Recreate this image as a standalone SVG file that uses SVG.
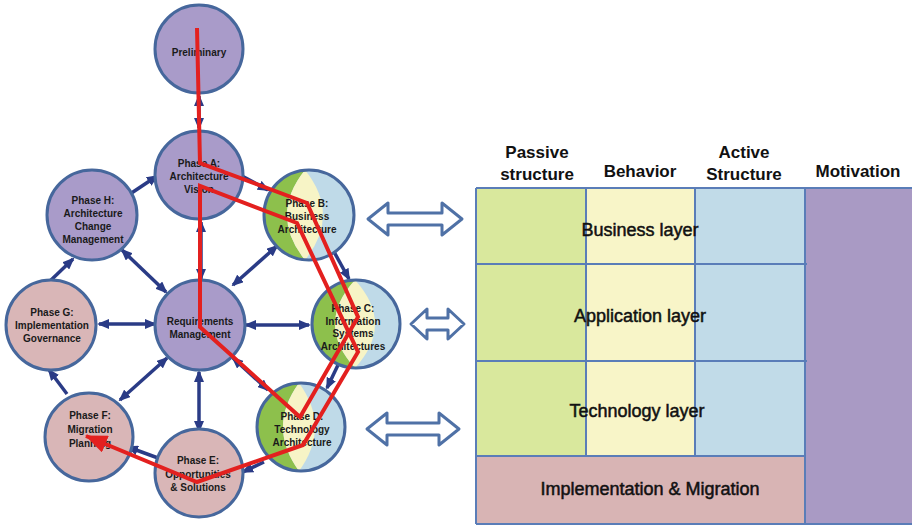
<svg xmlns="http://www.w3.org/2000/svg" width="912" height="529" viewBox="0 0 912 529">
<style>
.nt{font-family:"Liberation Sans",Arial,sans-serif;font-size:10px;font-weight:bold;fill:#1a1a1a;text-anchor:middle}
.hd{font-family:"Liberation Sans",Arial,sans-serif;font-size:17px;font-weight:bold;fill:#111;text-anchor:middle}
.ly{font-family:"Liberation Sans",Arial,sans-serif;font-size:18px;fill:#111;stroke:#111;stroke-width:0.5;text-anchor:middle}
.ring{stroke:#46679c;stroke-width:3}
.pur{fill:#a99bc9}
.pink{fill:#d9b6b7}
.c{stroke:#2a3b86;stroke-width:3.5;fill:none}
.one{marker-end:url(#nav)}
.bi{marker-start:url(#nav);marker-end:url(#nav)}
.dbl{fill:#fff;stroke:#4f71a6;stroke-width:3;stroke-linejoin:round}
.grid{stroke:#5a7db8;stroke-width:2;fill:none}
</style>
<defs>
<marker id="nav" markerUnits="userSpaceOnUse" viewBox="0 0 12 10" markerWidth="12" markerHeight="10" refX="10" refY="5" orient="auto-start-reverse">
<path d="M0,0 L12,5 L0,10 z" fill="#2a3b86"/>
</marker>
<marker id="redhead" markerUnits="userSpaceOnUse" viewBox="0 0 22 18" markerWidth="22" markerHeight="18" refX="21" refY="9" orient="auto">
<path d="M0,0 L22,9 L0,18 z" fill="#e3201f"/>
</marker>
<clipPath id="clipB"><circle cx="309" cy="215" r="45"/></clipPath>
<clipPath id="clipC"><circle cx="356" cy="324" r="44"/></clipPath>
<clipPath id="clipD"><circle cx="301" cy="427" r="44"/></clipPath>
</defs>
<rect width="912" height="529" fill="#fff"/>

<g id="connectors">
<line class="c bi" x1="199" y1="96" x2="199" y2="128"/>
<line class="c one" x1="242" y1="176" x2="268" y2="190"/>
<line class="c one" x1="127" y1="196" x2="157" y2="176"/>
<line class="c one" x1="50" y1="281" x2="73" y2="259"/>
<line class="c bi" x1="166" y1="292" x2="122" y2="250"/>
<line class="c bi" x1="99" y1="324" x2="155" y2="324"/>
<line class="c bi" x1="201" y1="279" x2="201" y2="222"/>
<line class="c bi" x1="233" y1="285" x2="277" y2="246"/>
<line class="c bi" x1="246" y1="325" x2="309" y2="325"/>
<line class="c one" x1="333" y1="250" x2="349" y2="279"/>
<line class="c one" x1="338" y1="365" x2="327" y2="388"/>
<line class="c bi" x1="233" y1="358" x2="268" y2="390"/>
<line class="c one" x1="264" y1="462" x2="243" y2="472"/>
<line class="c one" x1="158" y1="458" x2="128" y2="447"/>
<line class="c bi" x1="199" y1="372" x2="199" y2="431"/>
<line class="c bi" x1="167" y1="358" x2="120" y2="400"/>
<line class="c one" x1="67" y1="394" x2="49" y2="370"/>
</g>

<g id="preliminary">
<circle class="pur ring" cx="199" cy="49" r="44"/>
<text class="nt" x="199" y="56">Preliminary</text>
</g>
<g id="phase-a">
<circle class="pur ring" cx="199" cy="175" r="44"/>
<text class="nt" x="199" y="167">Phase A:<tspan x="199" dy="13">Architecture</tspan><tspan x="199" dy="13">Vision</tspan></text>
</g>
<g id="phase-b">
<g clip-path="url(#clipB)">
<rect x="260" y="165" width="100" height="100" fill="#bfdae8"/>
<path d="M250,160 L305,170 Q269,215 305,260 L250,270 Z" fill="#8dc04c"/>
<path d="M305,170 Q269,215 305,260 Q341,215 305,170 Z" fill="#f7f4c6"/>
</g>
<circle class="ring" cx="309" cy="215" r="45" fill="none"/>
<text class="nt" x="307" y="207">Phase B:<tspan x="307" dy="13">Business</tspan><tspan x="307" dy="13">Architecture</tspan></text>
</g>
<g id="phase-h">
<circle class="pur ring" cx="92" cy="215" r="45"/>
<text class="nt" x="93" y="204">Phase H:<tspan x="93" dy="13">Architecture</tspan><tspan x="93" dy="13">Change</tspan><tspan x="93" dy="13">Management</tspan></text>
</g>
<g id="phase-g">
<circle class="pink ring" cx="51" cy="325" r="45"/>
<text class="nt" x="52" y="316">Phase G:<tspan x="52" dy="13">Implementation</tspan><tspan x="52" dy="13">Governance</tspan></text>
</g>
<g id="requirements">
<circle class="pur ring" cx="200" cy="325" r="45"/>
<text class="nt" x="200" y="325">Requirements<tspan x="200" dy="13">Management</tspan></text>
</g>
<g id="phase-c">
<g clip-path="url(#clipC)">
<rect x="310" y="278" width="95" height="95" fill="#bfdae8"/>
<path d="M300,270 L355,280 Q315,324 355,368 L300,378 Z" fill="#8dc04c"/>
<path d="M355,280 Q315,324 355,368 Q395,324 355,280 Z" fill="#f7f4c6"/>
</g>
<circle class="ring" cx="356" cy="324" r="44" fill="none"/>
<text class="nt" x="353" y="312">Phase C:<tspan x="353" dy="12.5">Information</tspan><tspan x="353" dy="12.5">Systems</tspan><tspan x="353" dy="12.5">Architectures</tspan></text>
</g>
<g id="phase-d">
<g clip-path="url(#clipD)">
<rect x="255" y="381" width="95" height="95" fill="#bfdae8"/>
<path d="M245,375 L299,383 Q267,427 299,471 L245,480 Z" fill="#8dc04c"/>
<path d="M299,383 Q267,427 299,471 Q331,427 299,383 Z" fill="#f7f4c6"/>
</g>
<circle class="ring" cx="301" cy="427" r="44" fill="none"/>
<text class="nt" x="302" y="420">Phase D:<tspan x="302" dy="13">Technology</tspan><tspan x="302" dy="13">Architecture</tspan></text>
</g>
<g id="phase-e">
<circle class="pink ring" cx="199" cy="473" r="44"/>
<text class="nt" x="198" y="464">Phase E:<tspan x="198" dy="13.5">Opportunities</tspan><tspan x="198" dy="13.5">&amp; Solutions</tspan></text>
</g>
<g id="phase-f">
<circle class="pink ring" cx="89" cy="437" r="44"/>
<text class="nt" x="90" y="419">Phase F:<tspan x="90" dy="14">Migration</tspan><tspan x="90" dy="14">Planning</tspan></text>
</g>

<g id="adm-path">
<polyline points="197,28 200,163 307,203 358,317 300,417 200,327 200,186 297,223 358,352 303,445 197,482 86,436" fill="none" stroke="#e3201f" stroke-width="4" stroke-linejoin="miter" marker-end="url(#redhead)"/>
</g>

<g id="mapping-arrows">
<path class="dbl" d="M368,219 L388,203 L388,213 L442,213 L442,203 L462,219 L442,235 L442,225 L388,225 L388,235 Z"/>
<path class="dbl" d="M411,324 L427,309 L427,318 L448,318 L448,309 L464,324 L448,339 L448,330 L427,330 L427,339 Z"/>
<path class="dbl" d="M367,429 L387,413 L387,423 L439,423 L439,413 L459,429 L439,445 L439,435 L387,435 L387,445 Z"/>
</g>

<g id="layer-grid">
<rect x="476" y="188" width="110" height="268" fill="#d9e89d"/>
<rect x="586" y="188" width="109" height="268" fill="#f8f5c8"/>
<rect x="695" y="188" width="110" height="268" fill="#c1dbe8"/>
<rect x="805" y="188" width="107" height="336" fill="#a99ac4"/>
<rect x="476" y="456" width="329" height="68" fill="#d8b4b4"/>
<path class="grid" d="M476,188 L912,188 M476,264 L807,264 M476,361 L807,361 M476,456 L805,456 M476,524 L912,524 M476,188 L476,524 M586,188 L586,456 M695,188 L695,456 M805,188 L805,524"/>
<text class="hd" x="537" y="158">Passive</text>
<text class="hd" x="537" y="180">structure</text>
<text class="hd" x="640" y="177">Behavior</text>
<text class="hd" x="744" y="158">Active</text>
<text class="hd" x="744" y="180">Structure</text>
<text class="hd" x="858" y="177">Motivation</text>
<text class="ly" x="640" y="236">Business layer</text>
<text class="ly" x="640" y="322">Application layer</text>
<text class="ly" x="637" y="417">Technology layer</text>
<text class="ly" x="650" y="495">Implementation &amp; Migration</text>
</g>
</svg>
